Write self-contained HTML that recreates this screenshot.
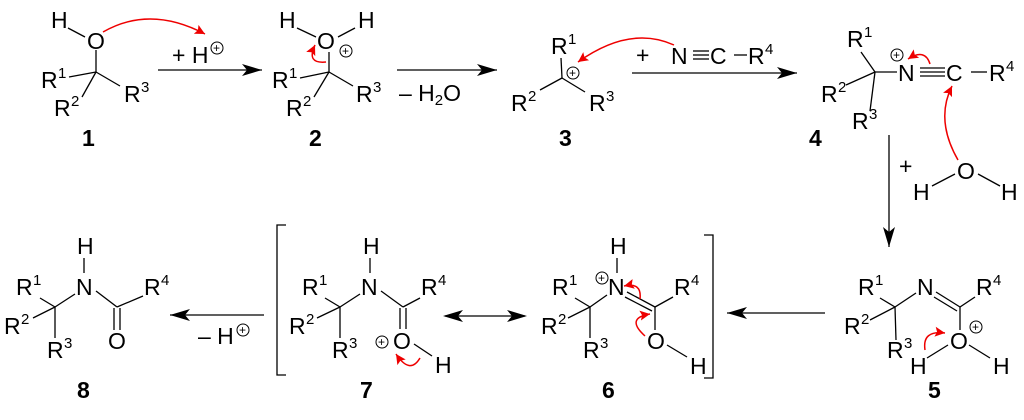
<!DOCTYPE html>
<html><head><meta charset="utf-8"><style>
html,body{margin:0;padding:0;background:#fff;}
svg{display:block;}
.l{stroke:#000;stroke-width:1.3;fill:none;}
.r{stroke:#e00;stroke-width:1.5;fill:none;}
.c{stroke:#000;stroke-width:1;fill:none;}
</style></head><body>
<svg width="1024" height="420" viewBox="0 0 1024 420" xmlns="http://www.w3.org/2000/svg">
<defs>
<marker id="ah" markerUnits="userSpaceOnUse" markerWidth="22" markerHeight="14" refX="20" refY="7" orient="auto">
<path d="M0,1 L20,7 L0,13 L5,7 Z" fill="#000"/></marker>
<marker id="ra" markerUnits="userSpaceOnUse" markerWidth="12" markerHeight="12" refX="10" refY="6" orient="auto">
<path d="M0,1 L10,6 L0,11 L2,6 Z" fill="#e00"/></marker>
</defs>
<g font-family="Liberation Sans, Arial, sans-serif" font-size="23" fill="#000">

<!-- 1 -->
<text x="51" y="28">H</text>
<line class="l" x1="68" y1="28" x2="85" y2="37"/>
<text x="87" y="49">O</text>
<line class="l" x1="96" y1="50" x2="96" y2="72"/>
<line class="l" x1="96" y1="72" x2="69" y2="77"/>
<line class="l" x1="96" y1="72" x2="120" y2="86"/>
<line class="l" x1="96" y1="72" x2="82" y2="97"/>
<text x="41" y="88">R</text><text font-size="15" x="58" y="78">1</text>
<text x="124" y="102">R</text><text font-size="15" x="141" y="92">3</text>
<text x="54" y="116">R</text><text font-size="15" x="71" y="106">2</text>
<text font-weight="bold" x="82" y="146">1</text>
<path class="r" d="M103,32 Q150,5 205,34" marker-end="url(#ra)"/>
<text x="172" y="63">+ H</text>
<circle class="c" cx="217" cy="48" r="6"/><text font-size="12" x="213" y="52">+</text>
<line class="l" x1="158" y1="70" x2="262" y2="70" marker-end="url(#ah)"/>

<!-- 2 -->
<text x="279" y="28">H</text>
<line class="l" x1="297" y1="28" x2="316" y2="37"/>
<text x="317" y="49">O</text>
<line class="l" x1="338" y1="37" x2="355" y2="28"/>
<text x="358" y="28">H</text>
<circle class="c" cx="346" cy="51" r="6"/><text font-size="12" x="342" y="55">+</text>
<line class="l" x1="329" y1="52" x2="329" y2="72"/>
<line class="l" x1="329" y1="72" x2="300" y2="78"/>
<line class="l" x1="329" y1="72" x2="353" y2="86"/>
<line class="l" x1="329" y1="72" x2="314" y2="97"/>
<text x="272" y="88">R</text><text font-size="15" x="289" y="78">1</text>
<text x="356" y="102">R</text><text font-size="15" x="373" y="92">3</text>
<text x="286" y="116">R</text><text font-size="15" x="303" y="106">2</text>
<text font-weight="bold" x="309" y="146">2</text>
<path class="r" d="M326,62 Q306,64 315,45" marker-end="url(#ra)"/>
<line class="l" x1="397" y1="70" x2="497" y2="70" marker-end="url(#ah)"/>
<text x="399" y="101">– H<tspan font-size="15" dy="4">2</tspan><tspan dy="-4">O</tspan></text>

<!-- 3 -->
<text x="551" y="54">R</text><text font-size="15" x="568" y="44">1</text>
<line class="l" x1="561" y1="58" x2="562" y2="78"/>
<line class="l" x1="562" y1="78" x2="540" y2="90"/>
<line class="l" x1="562" y1="78" x2="585" y2="92"/>
<circle class="c" cx="573" cy="73" r="6"/><text font-size="12" x="569" y="77">+</text>
<text x="511" y="111">R</text><text font-size="15" x="528" y="101">2</text>
<text x="589" y="111">R</text><text font-size="15" x="606" y="101">3</text>
<text font-weight="bold" x="559" y="146">3</text>
<path class="r" d="M674,45 Q630,25 578,62" marker-end="url(#ra)"/>
<text x="636" y="63">+</text>
<text x="671" y="64">N</text>
<line class="l" x1="693" y1="51" x2="709" y2="51"/>
<line class="l" x1="693" y1="55" x2="709" y2="55"/>
<line class="l" x1="693" y1="59" x2="709" y2="59"/>
<text x="710" y="64">C</text>
<line class="l" x1="734" y1="55" x2="747" y2="55"/>
<text x="748" y="64">R</text><text font-size="15" x="765" y="54">4</text>
<line class="l" x1="632" y1="73" x2="797" y2="73" marker-end="url(#ah)"/>

<!-- 4 -->
<text x="847" y="47">R</text><text font-size="15" x="864" y="37">1</text>
<line class="l" x1="861" y1="52" x2="875" y2="72"/>
<line class="l" x1="875" y1="72" x2="846" y2="85"/>
<line class="l" x1="875" y1="72" x2="870" y2="111"/>
<line class="l" x1="875" y1="72" x2="897" y2="72"/>
<text x="821" y="102">R</text><text font-size="15" x="838" y="92">2</text>
<text x="852" y="129">R</text><text font-size="15" x="869" y="119">3</text>
<text x="898" y="81">N</text>
<circle class="c" cx="897" cy="55" r="6"/><text font-size="12" x="893" y="59">+</text>
<line class="l" x1="920" y1="68" x2="945" y2="68"/>
<line class="l" x1="920" y1="72" x2="945" y2="72"/>
<line class="l" x1="920" y1="76" x2="945" y2="76"/>
<text x="946" y="81">C</text>
<line class="l" x1="971" y1="72" x2="987" y2="72"/>
<text x="989" y="81">R</text><text font-size="15" x="1006" y="71">4</text>
<path class="r" d="M930,64 Q925,48 908,59" marker-end="url(#ra)"/>
<path class="r" d="M958,160 Q935,120 952,86" marker-end="url(#ra)"/>
<text font-weight="bold" x="809" y="146">4</text>
<line class="l" x1="889" y1="135" x2="889" y2="247" marker-end="url(#ah)"/>
<text x="899" y="174">+</text>
<text x="957" y="179">O</text>
<text x="913" y="200">H</text>
<text x="1001" y="200">H</text>
<line class="l" x1="932" y1="186" x2="955" y2="174"/>
<line class="l" x1="978" y1="174" x2="1000" y2="186"/>

<!-- 5 -->
<text x="858" y="295">R</text><text font-size="15" x="875" y="285">1</text>
<line class="l" x1="880" y1="298" x2="895" y2="307"/>
<line class="l" x1="895" y1="307" x2="870" y2="320"/>
<line class="l" x1="895" y1="307" x2="896" y2="340"/>
<line class="l" x1="895" y1="307" x2="916" y2="293"/>
<text x="844" y="334">R</text><text font-size="15" x="861" y="324">2</text>
<text x="887" y="358">R</text><text font-size="15" x="904" y="348">3</text>
<text x="917" y="295">N</text>
<line class="l" x1="936" y1="292" x2="960" y2="307"/>
<line class="l" x1="934" y1="297" x2="957" y2="311"/>
<line class="l" x1="960" y1="307" x2="975" y2="297"/>
<text x="976" y="295">R</text><text font-size="15" x="993" y="285">4</text>
<line class="l" x1="960" y1="307" x2="960" y2="330"/>
<text x="950" y="349">O</text>
<circle class="c" cx="976" cy="327" r="6"/><text font-size="12" x="972" y="331">+</text>
<text x="910" y="374">H</text>
<text x="993" y="374">H</text>
<line class="l" x1="927" y1="358" x2="948" y2="345"/>
<line class="l" x1="969" y1="345" x2="990" y2="358"/>
<path class="r" d="M925,350 Q922,330 945,333" marker-end="url(#ra)"/>
<text font-weight="bold" x="928" y="398">5</text>
<line class="l" x1="825" y1="313" x2="727" y2="313" marker-end="url(#ah)"/>

<!-- 6 -->
<path class="l" d="M704,235 H713 V378 H704"/>
<text x="552" y="295">R</text><text font-size="15" x="569" y="285">1</text>
<line class="l" x1="575" y1="298" x2="590" y2="307"/>
<line class="l" x1="590" y1="307" x2="568" y2="318"/>
<line class="l" x1="590" y1="307" x2="590" y2="338"/>
<line class="l" x1="590" y1="307" x2="607" y2="295"/>
<text x="541" y="334">R</text><text font-size="15" x="558" y="324">2</text>
<text x="583" y="358">R</text><text font-size="15" x="600" y="348">3</text>
<text x="608" y="295">N</text>
<text x="610" y="254">H</text>
<line class="l" x1="617" y1="258" x2="617" y2="273"/>
<circle class="c" cx="602" cy="278" r="6"/><text font-size="12" x="598" y="282">+</text>
<line class="l" x1="627" y1="292" x2="655" y2="307"/>
<line class="l" x1="625" y1="297" x2="652" y2="311"/>
<line class="l" x1="655" y1="307" x2="673" y2="297"/>
<text x="674" y="295">R</text><text font-size="15" x="691" y="285">4</text>
<line class="l" x1="655" y1="307" x2="655" y2="330"/>
<text x="647" y="349">O</text>
<line class="l" x1="667" y1="345" x2="687" y2="357"/>
<text x="690" y="374">H</text>
<path class="r" d="M640,299 Q642,282 624,286" marker-end="url(#ra)"/>
<path class="r" d="M645,336 Q625,318 650,314" marker-end="url(#ra)"/>
<text font-weight="bold" x="602" y="398">6</text>

<line class="l" x1="445" y1="316" x2="525" y2="316"/>
<path d="M443,316 L463,310 L458,316 L463,322 Z" fill="#000"/>
<path d="M527,316 L507,310 L512,316 L507,322 Z" fill="#000"/>

<!-- 7 -->
<path class="l" d="M286,225 H277 V375 H286"/>
<text x="302" y="295">R</text><text font-size="15" x="319" y="285">1</text>
<line class="l" x1="325" y1="298" x2="340" y2="307"/>
<line class="l" x1="340" y1="307" x2="317" y2="318"/>
<line class="l" x1="340" y1="307" x2="340" y2="338"/>
<line class="l" x1="340" y1="307" x2="360" y2="294"/>
<text x="289" y="334">R</text><text font-size="15" x="306" y="324">2</text>
<text x="332" y="358">R</text><text font-size="15" x="349" y="348">3</text>
<text x="361" y="295">N</text>
<text x="363" y="254">H</text>
<line class="l" x1="370" y1="258" x2="370" y2="273"/>
<line class="l" x1="381" y1="291" x2="403" y2="307"/>
<line class="l" x1="403" y1="307" x2="420" y2="298"/>
<text x="421" y="295">R</text><text font-size="15" x="438" y="285">4</text>
<line class="l" x1="400" y1="308" x2="400" y2="329"/>
<line class="l" x1="406" y1="308" x2="406" y2="329"/>
<text x="393" y="349">O</text>
<circle class="c" cx="382" cy="342" r="6"/><text font-size="12" x="378" y="346">+</text>
<line class="l" x1="414" y1="344" x2="432" y2="356"/>
<text x="435" y="373">H</text>
<path class="r" d="M420,358 Q410,375 396,354" marker-end="url(#ra)"/>
<text font-weight="bold" x="360" y="398">7</text>

<line class="l" x1="264" y1="315" x2="170" y2="315" marker-end="url(#ah)"/>
<text x="198" y="344">– H</text>
<circle class="c" cx="243" cy="330" r="6"/><text font-size="12" x="239" y="334">+</text>

<!-- 8 -->
<text x="16" y="295">R</text><text font-size="15" x="33" y="285">1</text>
<line class="l" x1="40" y1="298" x2="55" y2="307"/>
<line class="l" x1="55" y1="307" x2="33" y2="318"/>
<line class="l" x1="55" y1="307" x2="55" y2="338"/>
<line class="l" x1="55" y1="307" x2="75" y2="294"/>
<text x="4" y="334">R</text><text font-size="15" x="21" y="324">2</text>
<text x="47" y="358">R</text><text font-size="15" x="64" y="348">3</text>
<text x="76" y="295">N</text>
<text x="77" y="254">H</text>
<line class="l" x1="84" y1="258" x2="84" y2="273"/>
<line class="l" x1="96" y1="291" x2="117" y2="307"/>
<line class="l" x1="117" y1="307" x2="143" y2="296"/>
<text x="144" y="295">R</text><text font-size="15" x="161" y="285">4</text>
<line class="l" x1="114" y1="308" x2="114" y2="330"/>
<line class="l" x1="120" y1="308" x2="120" y2="330"/>
<text x="108" y="349">O</text>
<text font-weight="bold" x="77" y="398">8</text>
</g>
</svg>
</body></html>
